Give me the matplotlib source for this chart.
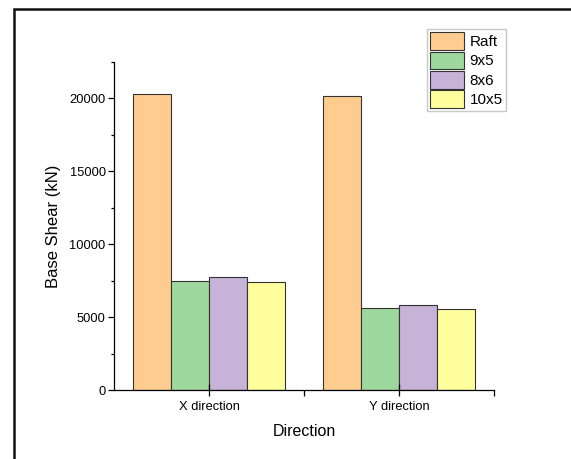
import matplotlib
matplotlib.use('Agg')
from matplotlib import pyplot as plt
from matplotlib.patches import Rectangle
from matplotlib.ticker import MultipleLocator, FixedLocator
import numpy as np

# data
directions = ['X direction', 'Y direction']
series = ['Raft', '9x5', '8x6', '10x5']
raft = [20320, 20180]
grid_9x5 = [7450, 5600]
grid_8x6 = [7770, 5805]
grid_10x5 = [7405, 5555]

colors = ['#FFCC8F', '#9ED89E', '#C6B3D7', '#FFFF9E']

plt.rcParams['font.family'] = ['Liberation Sans', 'DejaVu Sans']

fig = plt.figure(figsize=(5.71, 4.59), dpi=100)
ax = fig.add_axes([0.1996, 0.1503, 0.6655, 0.7153])

# black frame round the figure (cut at the right and bottom edge)
fig.patches.append(Rectangle((14 / 571, -0.05), 1.2, 1 - 9.5 / 459 + 0.05,
                             transform=fig.transFigure, fill=False,
                             edgecolor='#111111', linewidth=1.8))

x = np.arange(len(directions))
w = 0.2
values = [raft, grid_9x5, grid_8x6, grid_10x5]
for i, (name, vals) in enumerate(zip(series, values)):
    ax.bar(x + (i - 1.5) * w, vals, width=w, color=colors[i],
           edgecolor='#333333', linewidth=0.8, label=name)

ax.set_xlim(-0.5, 1.5)
ax.set_ylim(0, 22500)

ax.spines['top'].set_visible(False)
ax.spines['right'].set_visible(False)
ax.spines['left'].set_linewidth(0.9)
ax.spines['bottom'].set_linewidth(0.9)

ax.set_xticks(x)
ax.set_xticklabels(directions, fontsize=9.3)
ax.xaxis.set_minor_locator(FixedLocator([0.5, 1.5]))
ax.tick_params(axis='x', which='major', direction='inout', length=8, width=0.9, pad=4)
ax.tick_params(axis='x', which='minor', direction='out', length=4, width=0.9)

ax.yaxis.set_major_locator(MultipleLocator(5000))
ax.yaxis.set_minor_locator(MultipleLocator(2500))
ax.tick_params(axis='y', which='major', direction='out', length=4, width=0.9, labelsize=9.3, pad=2)
ax.tick_params(axis='y', which='minor', direction='out', length=2.5, width=0.9)

ax.set_xlabel('Direction', fontsize=11.5, labelpad=8)
ax.set_ylabel('Base Shear (kN)', fontsize=12, labelpad=6)

leg = fig.legend(loc='upper left', bbox_to_anchor=(426.7 / 571, 1 - 29 / 459),
                 fontsize=11, fancybox=False, edgecolor='#BBBBBB',
                 handlelength=2.25, handleheight=1.4, labelspacing=0.12,
                 handletextpad=0.35, borderpad=0.2, borderaxespad=0)
leg.get_frame().set_linewidth(1.0)

fig.savefig('out.png', dpi=100)
